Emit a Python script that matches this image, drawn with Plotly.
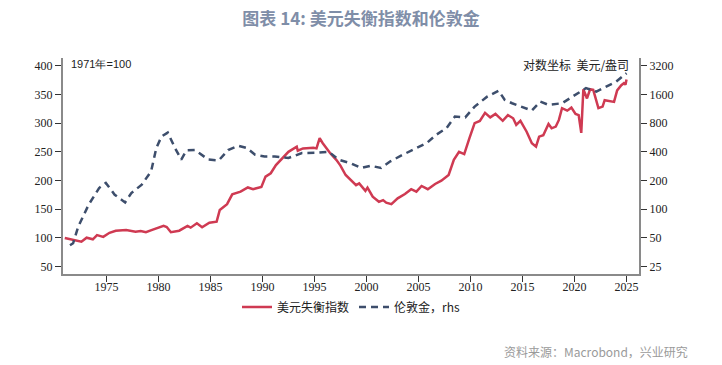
import plotly.graph_objects as go
import math

# 美元失衡指数 (1971=100), left axis
usd_years = [1971.0, 1971.5, 1971.9, 1972.6, 1973.1, 1973.7, 1974.1, 1974.7, 1975.3, 1975.9,
             1976.9, 1977.4, 1977.8, 1978.3, 1978.8, 1979.4, 1980.1, 1980.5, 1980.8, 1981.2,
             1982.0, 1982.8, 1983.1, 1983.7, 1984.2, 1984.9, 1985.6, 1985.9, 1986.6, 1987.1,
             1987.9, 1988.6, 1989.1, 1989.9, 1990.3, 1990.8, 1991.3, 1991.9, 1992.5, 1993.3,
             1993.4, 1993.9, 1994.9, 1995.2, 1995.5, 1995.8, 1996.5, 1997.1, 1997.5, 1998.0,
             1998.5, 1999.0, 1999.3, 1999.9, 2000.1, 2000.6, 2001.2, 2001.6, 2001.9, 2002.4,
             2003.0, 2003.7, 2004.3, 2004.8, 2005.3, 2005.9, 2006.6, 2007.2, 2007.9, 2008.4,
             2008.9, 2009.4, 2009.9, 2010.4, 2010.9, 2011.4, 2011.9, 2012.4, 2013.1, 2013.6,
             2014.1, 2014.4, 2014.8, 2015.4, 2015.9, 2016.3, 2016.6, 2017.0, 2017.5, 2017.8,
             2018.2, 2018.5, 2018.8, 2019.3, 2019.7, 2020.1, 2020.4, 2020.65, 2020.85, 2021.2,
             2021.5, 2021.8, 2022.3, 2022.7, 2022.9, 2023.3, 2023.8, 2024.1, 2024.5, 2024.75,
             2024.9, 2025.0]
usd_values = [100, 98, 96.5, 93.5, 100.5, 97.7, 105, 102, 109, 112.7,
              114, 113, 111, 112, 110, 114, 118.6, 121, 119, 110,
              112.7, 121, 118, 125.6, 118.6, 126.6, 128.4, 148.8, 159, 176,
              180.7, 188, 185, 189, 206.8, 212.7, 227, 238.8, 250, 259,
              252, 256, 257, 256, 273.7, 265, 248, 236, 226, 209.7,
              200, 192, 195, 182, 187.6, 172, 163, 166, 161.5, 159,
              169, 176.6, 185, 180.7, 190.6, 185, 194, 199.8, 209.7, 236,
              250, 246, 273.7, 300, 303.8, 318, 310, 316, 304, 314,
              308.5, 297, 304, 285, 265, 259, 276.5, 279, 298.6, 291,
              294, 305.6, 326, 321.7, 327, 316, 314, 283, 359, 343,
              359, 357.8, 326, 328.7, 340, 339, 337, 357, 366, 369.5,
              367, 376]

# 伦敦金 (美元/盎司), right log axis
gold_years = [1971.5, 1971.8, 1972.3, 1973.3, 1974.3, 1974.95, 1975.8, 1976.8, 1977.4, 1978.4,
              1979.3, 1979.8, 1980.3, 1980.9, 1981.6, 1982.2, 1982.7, 1983.5, 1984.8, 1985.8,
              1986.7, 1987.7, 1988.5, 1989.3, 1990.2, 1991.2, 1992.5, 1993.8, 1995.1, 1996.4,
              1997.3, 1998.6, 1999.5, 2000.4, 2001.4, 2002.3, 2003.5, 2004.6, 2005.8, 2006.7,
              2007.7, 2008.5, 2009.5, 2010.4, 2011.6, 2012.7, 2013.3, 2014.0, 2014.9, 2015.9,
              2016.7, 2017.5, 2018.8, 2019.8, 2021.1, 2022.1, 2023.1, 2024.0, 2025.0]
gold_values = [42, 44, 66, 112, 167, 189, 142, 118, 148, 181,
               250, 438, 579, 637, 438, 332, 414, 418, 332, 325,
               418, 463, 438, 373, 358, 358, 345, 388, 391, 400,
               332, 300, 271, 286, 271, 318, 373, 428, 495, 603,
               710, 937, 920, 1192, 1515, 1750, 1400, 1293, 1192, 1083,
               1346, 1244, 1293, 1515, 1862, 1710, 1930, 2175, 2670]

x_ticks = [1975, 1980, 1985, 1990, 1995, 2000, 2005, 2010, 2015, 2020, 2025]
left_ticks = [50, 100, 150, 200, 250, 300, 350, 400]
right_ticks = [25, 50, 100, 200, 400, 800, 1600, 3200]

left_range = [37.3, 413.4]
def to_right(v):
    return 25 * 2 ** ((v - 50) / 50)
right_range = [math.log10(to_right(left_range[0])), math.log10(to_right(left_range[1]))]

RED = "#cf3a52"
NAVY = "#3d4e6c"
AX = "#8a8a8a"
SERIF = "Liberation Serif, Times New Roman, serif"
CJK = "Noto Sans CJK SC, Noto Sans, sans-serif"

fig = go.Figure()
fig.add_trace(go.Scatter(x=usd_years, y=usd_values, mode="lines", name="美元失衡指数",
                         line=dict(color=RED, width=2.5)))
fig.add_trace(go.Scatter(x=gold_years, y=gold_values, mode="lines", name="伦敦金，rhs",
                         yaxis="y2", line=dict(color=NAVY, width=2.5, dash="7px,5px")))

axis_common = dict(ticks="outside", ticklen=6, tickcolor="#333", tickwidth=1,
                   showline=True, linecolor=AX, linewidth=2, showgrid=False, zeroline=False,
                   tickfont=dict(family=SERIF, size=12, color="#222"))

fig.update_layout(
    width=722, height=365,
    margin=dict(l=63, r=83, t=58, b=91),
    paper_bgcolor="white", plot_bgcolor="white",
    showlegend=True,
    title=dict(text="<b>图表 14: 美元失衡指数和伦敦金</b>", x=0.5, xanchor="center",
               xref="container", yref="container", y=1 - 19 / 365, yanchor="middle",
               font=dict(family=CJK, size=17, color="#7f8ea8")),
    legend=dict(orientation="h", x=0.5, xanchor="center", y=(274 - 307) / 216, yanchor="middle",
                font=dict(family=CJK, size=12, color="#222"), itemwidth=30,
                tracegroupgap=0, bgcolor="rgba(0,0,0,0)"),
    xaxis=dict(range=[1970.83, 2026.2], tickmode="array", tickvals=x_ticks,
               ticklabelstandoff=-5, **axis_common),
    yaxis=dict(range=left_range, tickmode="array", tickvals=left_ticks, **axis_common),
    yaxis2=dict(type="log", range=right_range, overlaying="y", side="right",
                tickmode="array", tickvals=right_ticks, ticktext=[str(t) for t in right_ticks],
                **axis_common),
)

fig.add_annotation(text="1971年=100", xref="paper", yref="paper", x=(69 - 63) / 576,
                   y=(274 - 64) / 216, xanchor="left", yanchor="middle", showarrow=False,
                   font=dict(family="Liberation Sans, Arial, sans-serif", size=11, color="#222"))
fig.add_annotation(text="对数坐标  美元/盎司", xref="paper", yref="paper", x=(631 - 63) / 576,
                   y=(274 - 64) / 216, xanchor="right", yanchor="middle", showarrow=False,
                   font=dict(family=CJK, size=12, color="#222"))
fig.add_annotation(text="资料来源：Macrobond，兴业研究", xref="paper", yref="paper",
                   x=(690 - 63) / 576, y=(274 - 351) / 216, xanchor="right", yanchor="middle",
                   showarrow=False, font=dict(family=CJK, size=12, color="#9a9a9a"))

fig.write_html("out.html", config={"displayModeBar": False},
               post_script="document.body.style.margin='0';")
